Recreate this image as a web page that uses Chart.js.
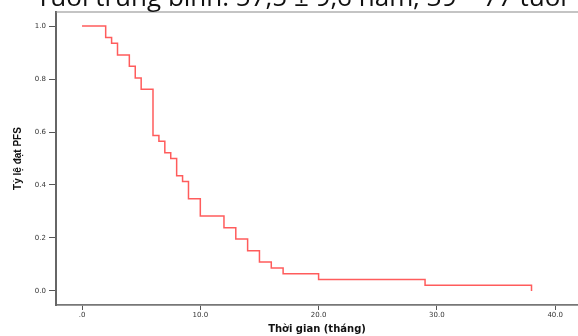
<!DOCTYPE html>
<html>
<head>
<meta charset="utf-8">
<script src="https://cdn.jsdelivr.net/npm/chart.js@4"></script>
<style>
  html, body { margin: 0; padding: 0; background: #fff; overflow: hidden; }
  #wrap { position: relative; width: 578px; height: 336px; overflow: hidden; }
  #topText {
    position: absolute; left: 36px; top: -16.6px; z-index: 2;
    font-family: 'Open Sans'; font-size: 26px; line-height: 26px;
    white-space: nowrap; color: #111;
  }
  #chart { position: absolute; left: 0; top: 0; }
</style>
</head>
<body>
<div id="wrap">
  <div id="topText">Tuổi trung bình: 57,5 ± 9,6 năm; 39 – 77 tuổi</div>
  <canvas id="chart" width="578" height="336"></canvas>
</div>
<script>
// Kaplan-Meier steps: time (months) and PFS level after each event
const months = [0, 2, 2.5, 3, 4, 4.5, 5, 6, 6.5, 7, 7.5, 8, 8.5, 9, 10, 12, 13, 14, 15, 16, 17, 20, 29, 38];
const pfs = [1.0, 0.957, 0.935, 0.891, 0.848, 0.804, 0.761, 0.587, 0.565, 0.522, 0.5, 0.435, 0.413, 0.348, 0.283, 0.239, 0.196, 0.152, 0.109, 0.087, 0.065, 0.043, 0.022, 0.0];

const xTicks = [0, 10, 20, 30, 40];
const xTickLabels = ['.0', '10.0', '20.0', '30.0', '40.0'];
const yTicks = [0, 0.2, 0.4, 0.6, 0.8, 1.0];
const yTickLabels = ['0.0', '0.2', '0.4', '0.6', '0.8', '1.0'];

const tickFont = { family: 'DejaVu Sans', size: 7 };

// top border of the plot frame
const frameLines = {
  id: 'frameLines',
  afterDraw(chart) {
    const { ctx, chartArea } = chart;
    ctx.save();
    ctx.strokeStyle = '#8a8a8a';
    ctx.lineWidth = 1.2;
    ctx.beginPath();
    ctx.moveTo(chartArea.left, chartArea.top);
    ctx.lineTo(chartArea.right + 10, chartArea.top);
    ctx.stroke();
    ctx.restore();
  }
};

const ctx = document.querySelector('#chart').getContext('2d');

new Chart(ctx, {
  type: 'line',
  data: {
    datasets: [
      {
        data: months.map((m, i) => ({ x: m, y: pfs[i] })),
        stepped: 'before',
        borderColor: '#ff5c5c',
        borderWidth: 1.5,
        pointRadius: 0,
        fill: false,
      },
    ],
  },
  options: {
    responsive: false,
    animation: false,
    layout: { padding: { top: 12, right: 0, bottom: 0, left: 0 } },
    plugins: {
      legend: { display: false },
      tooltip: { enabled: false },
    },
    scales: {
      x: {
        type: 'linear',
        min: -2.2,
        max: 41.93,
        afterFit: (s) => { s.height = 31; },
        afterBuildTicks: (s) => { s.ticks = xTicks.map((v) => ({ value: v })); },
        ticks: {
          callback: (v, i) => xTickLabels[i],
          font: tickFont,
          color: '#333',
          padding: 1,
          maxRotation: 0,
          autoSkip: false,
        },
        grid: { drawOnChartArea: false, tickLength: 5, color: '#555' },
        border: { color: '#777', width: 1.7 },
        title: {
          display: true,
          text: 'Thời gian (tháng)',
          font: { family: 'DejaVu Sans', size: 10, weight: 'bold' },
          color: '#111',
          padding: { top: 0, bottom: 1 },
        },
      },
      y: {
        min: -0.053,
        max: 1.053,
        afterFit: (s) => { s.width = 56; },
        afterBuildTicks: (s) => { s.ticks = yTicks.map((v) => ({ value: v })); },
        ticks: {
          callback: (v, i) => yTickLabels[i],
          font: tickFont,
          color: '#333',
          padding: 3,
        },
        grid: { drawOnChartArea: false, tickLength: 7, color: '#555' },
        border: { color: '#666', width: 2 },
        title: {
          display: true,
          text: 'Tỷ lệ đạt PFS',
          font: { family: 'Liberation Sans', size: 10, weight: 'bold' },
          color: '#111',
          padding: { top: 12, bottom: 0 },
        },
      },
    },
  },
  plugins: [frameLines],
});
</script>
</body>
</html>
